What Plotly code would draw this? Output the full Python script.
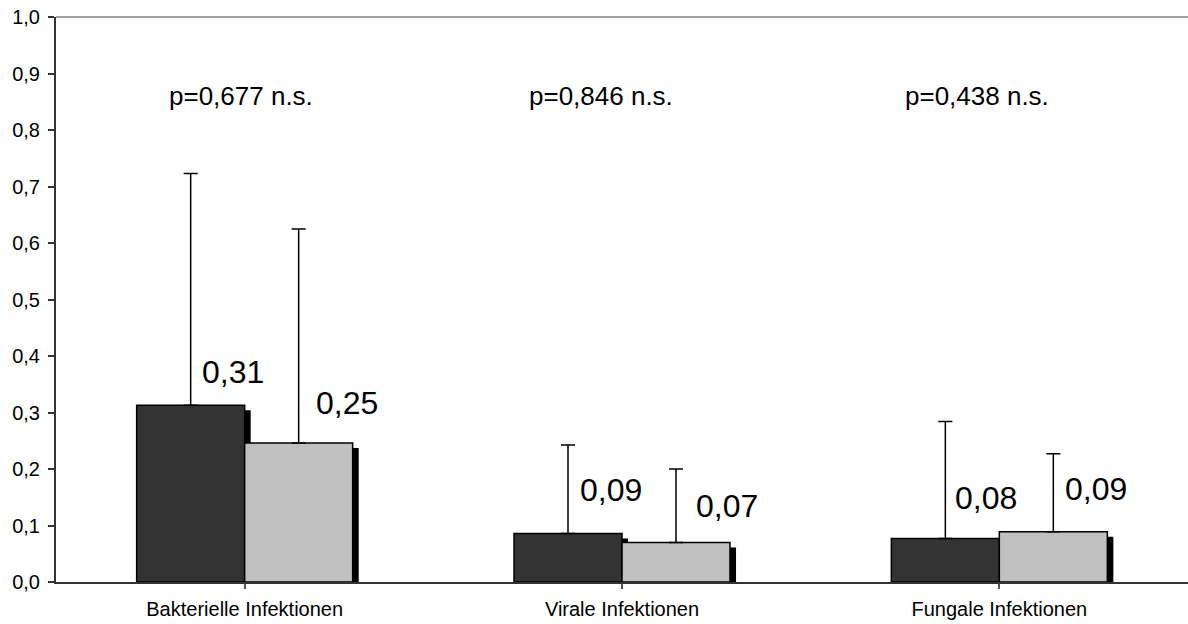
import plotly.graph_objects as go

categories = ["Bakterielle Infektionen", "Virale Infektionen", "Fungale Infektionen"]
dark_values = [0.313, 0.086, 0.077]
light_values = [0.246, 0.070, 0.089]
dark_err_top = [0.723, 0.2425, 0.284]
light_err_top = [0.625, 0.200, 0.227]
p_texts = ["p=0,677 n.s.", "p=0,846 n.s.", "p=0,438 n.s."]
y_ticks = [i / 10 for i in range(11)]
y_tick_labels = [f"{v:.1f}".replace(".", ",") for v in y_ticks]

FONT = "Liberation Sans, Arial, sans-serif"
W = 0.2862          # bar width in category units
SDX = 0.016         # shadow x offset (category units)
SDY = 0.0088        # shadow y offset (value units)

xi = list(range(len(categories)))

fig = go.Figure()

# shadows
fig.add_trace(go.Bar(x=xi, y=[v - SDY for v in dark_values], width=W, offset=-W + SDX,
                     marker=dict(color="black", line=dict(width=0)), hoverinfo="skip", showlegend=False))
fig.add_trace(go.Bar(x=xi, y=[v - SDY for v in light_values], width=W, offset=SDX,
                     marker=dict(color="black", line=dict(width=0)), hoverinfo="skip", showlegend=False))

# main bars
fig.add_trace(go.Bar(
    x=xi, y=dark_values, width=W, offset=-W,
    marker=dict(color="#333333", line=dict(color="black", width=1.5)),
    error_y=dict(type="data", symmetric=False,
                 array=[t - v for t, v in zip(dark_err_top, dark_values)],
                 arrayminus=[0] * 3, color="black", thickness=1.5, width=7),
    showlegend=False))
fig.add_trace(go.Bar(
    x=xi, y=light_values, width=W, offset=0,
    marker=dict(color="#C0C0C0", line=dict(color="black", width=1.5)),
    error_y=dict(type="data", symmetric=False,
                 array=[t - v for t, v in zip(light_err_top, light_values)],
                 arrayminus=[0] * 3, color="black", thickness=1.5, width=7),
    showlegend=False))

# value labels
dark_label_dx = [-12, -11, -13]
dark_label_dy = [33, 43, 41]
light_label_dx = [102, 105, 97]
light_label_dy = [40, 36, 43]
for i in xi:
    fig.add_annotation(x=i, y=dark_values[i], text=f"{dark_values[i]:.2f}".replace(".", ","),
                       showarrow=False, xanchor="center", yanchor="middle",
                       xshift=dark_label_dx[i], yshift=dark_label_dy[i],
                       font=dict(family=FONT, size=32, color="black"))
    fig.add_annotation(x=i, y=light_values[i], text=f"{light_values[i]:.2f}".replace(".", ","),
                       showarrow=False, xanchor="center", yanchor="middle",
                       xshift=light_label_dx[i], yshift=light_label_dy[i],
                       font=dict(family=FONT, size=32, color="black"))

# p-values
p_dx = [-78, -95, -96]
for i in xi:
    fig.add_annotation(x=i, y=0.86, text=p_texts[i], showarrow=False,
                       xanchor="left", yanchor="middle", xshift=p_dx[i],
                       font=dict(family=FONT, size=26, color="black"))

# top border of plot area
fig.add_shape(type="line", xref="paper", yref="paper", x0=0, x1=1, y0=1, y1=1,
              line=dict(color="#808080", width=1.5))

fig.update_layout(
    width=1188, height=624,
    margin=dict(l=56, r=0, t=17, b=42),
    barmode="overlay",
    plot_bgcolor="white", paper_bgcolor="white",
    font=dict(family=FONT, color="black"),
)
fig.update_xaxes(
    tickmode="array", tickvals=xi, ticktext=categories,
    range=[-0.5, 2.5], showgrid=False, zeroline=False,
    showline=True, linecolor="#333333", linewidth=1.5,
    ticks="outside", ticklen=5, tickcolor="#555555", tickwidth=1.5,
    tickfont=dict(family=FONT, size=20, color="black"),
    ticklabelstandoff=3,
)
fig.update_yaxes(
    range=[0, 1], tickvals=y_ticks, ticktext=y_tick_labels,
    showgrid=False, zeroline=False,
    showline=True, linecolor="#333333", linewidth=2,
    ticks="outside", ticklen=6, tickcolor="#333333", tickwidth=1.5,
    tickfont=dict(family=FONT, size=20, color="black"),
    ticklabelstandoff=4,
)

fig.write_html("out.html")
